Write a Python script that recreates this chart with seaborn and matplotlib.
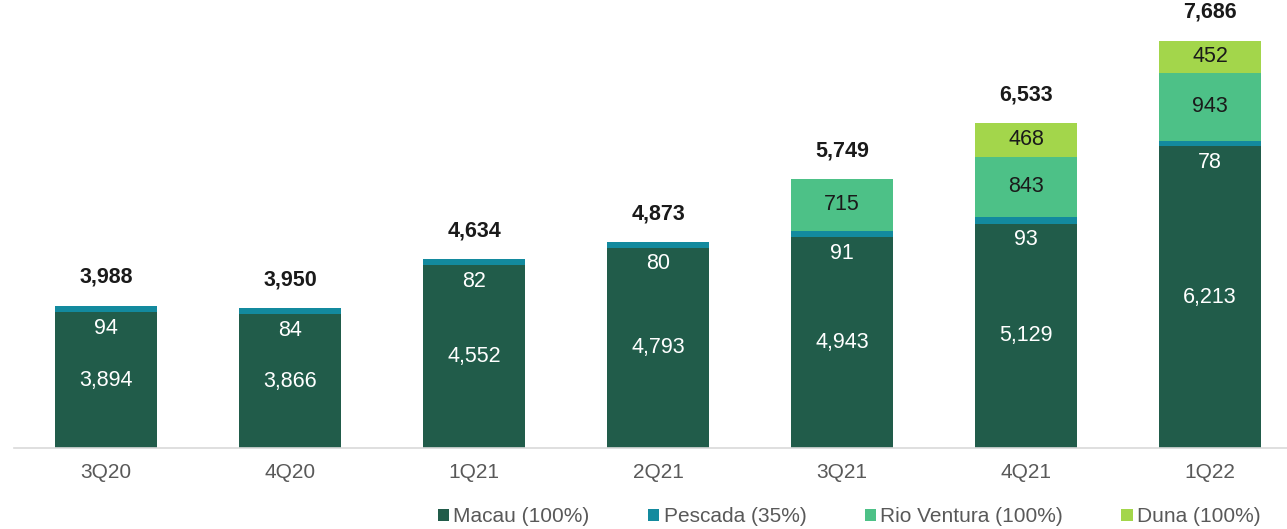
import matplotlib
matplotlib.use("Agg")
import matplotlib.pyplot as plt
from matplotlib.patches import Patch
import numpy as np
import pandas as pd
import seaborn as sns

quarters = ["3Q20", "4Q20", "1Q21", "2Q21", "3Q21", "4Q21", "1Q22"]
macau = [3894, 3866, 4552, 4793, 4943, 5129, 6213]
pescada = [94, 84, 82, 80, 91, 93, 78]
rio_ventura = [0, 0, 0, 0, 715, 843, 943]
duna = [0, 0, 0, 0, 0, 468, 452]
series_names = ["Macau (100%)", "Pescada (35%)", "Rio Ventura (100%)", "Duna (100%)"]
colors = ["#215c4a", "#138a9e", "#4dc187", "#a3d64b"]

sns.set_theme(style="white")
plt.rcParams["font.family"] = ["Liberation Sans", "DejaVu Sans"]

df = pd.DataFrame({"quarter": quarters, "macau": macau, "pescada": pescada,
                   "rio": rio_ventura, "duna": duna})
df["c1"] = df["macau"]
df["c2"] = df["c1"] + df["pescada"]
df["c3"] = df["c2"] + df["rio"]
df["c4"] = df["c3"] + df["duna"]

fig = plt.figure(figsize=(12.87, 5.29), dpi=100)
ax = fig.add_axes([14 / 1287, 81 / 529, 1273 / 1287, 448 / 529])

y_min = 2000
# stacked bars drawn as overlapping cumulative heights, tallest first
for col, color in zip(["c4", "c3", "c2", "c1"], colors[::-1]):
    sns.barplot(data=df, x="quarter", y=col, color=color, saturation=1,
                width=0.554, ax=ax, linewidth=0)

dark = "#1a1a1a"
fs = 15.5
for i in range(len(quarters)):
    m, p, r, d = macau[i], pescada[i], rio_ventura[i], duna[i]
    ax.text(i, (y_min + m) / 2, f"{m:,}", ha="center", va="center",
            color="white", fontsize=fs)
    ax.annotate(f"{p:,}", (i, m), xytext=(0, -4), textcoords="offset points",
                ha="center", va="top", color="white", fontsize=fs)
    if r:
        ax.text(i, m + p + r / 2, f"{r:,}", ha="center", va="center",
                color=dark, fontsize=fs)
    if d:
        ax.text(i, m + p + r + d / 2, f"{d:,}", ha="center", va="center",
                color=dark, fontsize=fs)
    total = m + p + r + d
    ax.annotate(f"{total:,}", (i, total), xytext=(0, 13), textcoords="offset points",
                ha="center", va="bottom", color=dark, fontsize=fs, fontweight="bold")

for s in ["left", "right", "top"]:
    ax.spines[s].set_visible(False)
ax.spines["bottom"].set_color("#d9d9d9")
ax.spines["bottom"].set_linewidth(1.2)
ax.set_yticks([])
ax.set_xlabel("")
ax.set_ylabel("")
ax.set_xticks(np.arange(len(quarters)))
ax.set_xticklabels(quarters, color="#595959", fontsize=15)
ax.tick_params(axis="x", which="major", length=0, pad=11)
ax.set_xticks(np.arange(-0.5, len(quarters)), minor=True)
ax.tick_params(axis="x", which="minor", length=8, color="#d9d9d9", width=1.2)
ax.set_ylim(y_min, 8252)
ax.set_xlim(-0.5, -0.5 + 1273 / 184)

handles = [Patch(facecolor=c, edgecolor="none") for c in colors]
leg = fig.legend(handles, series_names, loc="center left",
                 bbox_to_anchor=(419 / 1287, 12 / 529), ncol=4, frameon=False,
                 fontsize=15, handlelength=0.55, handleheight=0.55,
                 handletextpad=0.2, columnspacing=2.8)
for t in leg.get_texts():
    t.set_color("#595959")

fig.savefig("out.png", dpi=100)
